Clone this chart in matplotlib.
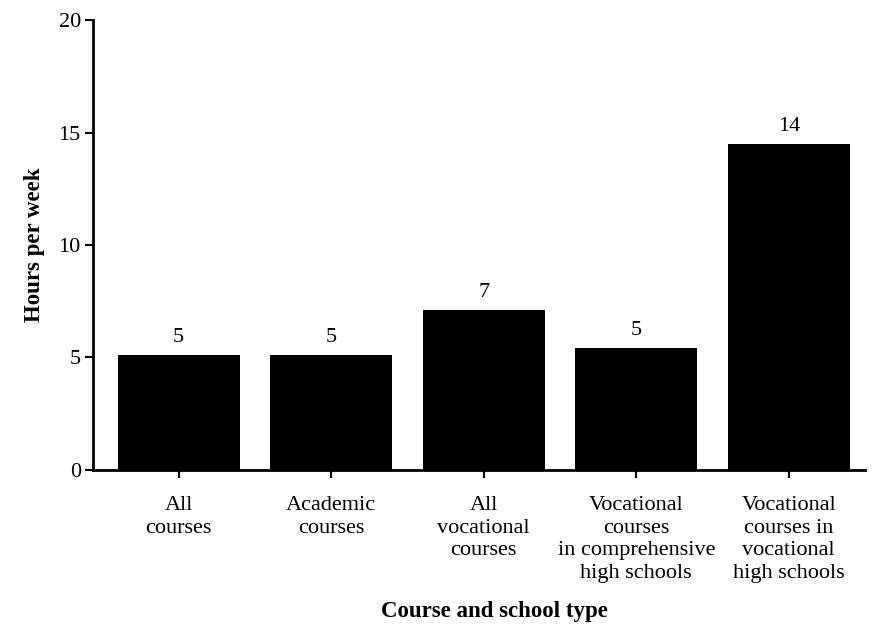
import matplotlib
matplotlib.use('Agg')
import matplotlib.pyplot as plt

plt.rcParams['font.family'] = ['Liberation Serif', 'DejaVu Serif']

categories = ['All\ncourses', 'Academic\ncourses', 'All\nvocational\ncourses',
              'Vocational\ncourses\nin comprehensive\nhigh schools',
              'Vocational\ncourses in\nvocational\nhigh schools']
hours = [5.1, 5.1, 7.1, 5.4, 14.5]

fig = plt.figure(figsize=(8.72, 6.34), dpi=100)
ax = fig.add_axes([0.107, 0.259, 0.885, 0.709])

x = range(len(hours))
bars = ax.bar(x, hours, width=0.8, color='black')
for xi, h in zip(x, hours):
    ax.annotate(str(int(h)), (xi, h), xytext=(0, 6), textcoords='offset points',
                ha='center', va='bottom', fontsize=16)

ax.set_xlim(-0.56, 4.5)
ax.set_ylim(0, 20)
ax.set_yticks([0, 5, 10, 15, 20])
ax.set_xticks(list(x))
ax.set_xticklabels(categories, fontsize=16, linespacing=1.25)
ax.tick_params(axis='y', labelsize=16, length=6, width=1.5, direction='out', pad=3)
ax.tick_params(axis='x', length=6, width=1.5, direction='out', pad=13)

for s in ['top', 'right']:
    ax.spines[s].set_visible(False)
for s in ['left', 'bottom']:
    ax.spines[s].set_linewidth(2)

ax.set_ylabel('Hours per week', fontsize=16.5, fontweight='bold', labelpad=10)
fig.text(0.567, 0.035, 'Course and school type', ha='center', va='center',
         fontsize=16.5, fontweight='bold')

plt.savefig('out.png', dpi=100)
